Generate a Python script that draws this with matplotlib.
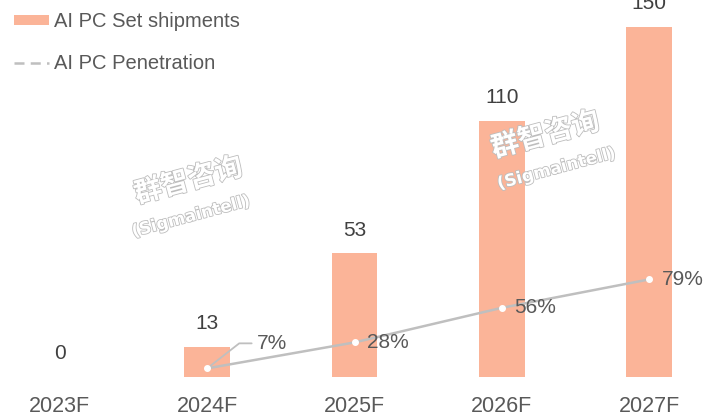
import matplotlib
matplotlib.use("Agg")
import matplotlib.pyplot as plt
import matplotlib.patheffects as pe
from matplotlib.lines import Line2D
from matplotlib.patches import Patch

years = ["2023F", "2024F", "2025F", "2026F", "2027F"]
shipments = [0, 13, 53, 110, 150]
pen_years = ["2024F", "2025F", "2026F", "2027F"]
penetration = [7, 28, 56, 79]

bar_color = "#FBB498"
line_color = "#BFBFBF"
text_dark = "#404040"
text_grey = "#595959"
font = "Liberation Sans"

fig = plt.figure(figsize=(7.11, 4.16), dpi=100)
ax = fig.add_axes([1 / 711, 39 / 416, 707 / 711, 373 / 416])
ax.set_xlim(-0.4, 4.4)
ax.set_ylim(0, 160)

x = list(range(len(years)))
ax.bar(x, shipments, width=0.31, color=bar_color, zorder=2)
for xi, v in zip(x, shipments):
    ax.annotate(str(v), (xi, v), xytext=(0, 10), textcoords="offset points",
                ha="center", va="bottom", fontsize=15, color=text_dark,
                family=font, annotation_clip=False)

ax.set_xticks(x)
ax.set_xticklabels(years, fontsize=15.5, color=text_grey, family=font)
ax.tick_params(axis="x", length=0, pad=14)
ax.set_yticks([])
for s in ax.spines.values():
    s.set_visible(False)

ax2 = ax.twinx()
ax2.set_ylim(0, 302)
ax2.set_yticks([])
for s in ax2.spines.values():
    s.set_visible(False)
px = [years.index(y) for y in pen_years]
ax2.plot(px, penetration, color=line_color, lw=1.8, zorder=3)
ax2.plot(px, penetration, "o", ms=4, mfc="white", mec="white", zorder=4)
for i, (xi, v) in enumerate(zip(px, penetration)):
    if i == 0:
        ax2.annotate(f"{v}%", (xi, v), xytext=(36, 18), textcoords="offset points",
                     ha="left", va="center", fontsize=15, color=text_grey, family=font,
                     arrowprops=dict(arrowstyle="-", color=line_color, lw=1.3,
                                     shrinkA=2, shrinkB=2,
                                     connectionstyle="angle,angleA=0,angleB=38,rad=0"))
    else:
        ax2.annotate(f"{v}%", (xi, v), xytext=(9, 0), textcoords="offset points",
                     ha="left", va="center", fontsize=15, color=text_grey, family=font)

handles = [Patch(facecolor=bar_color, edgecolor="none"),
           Line2D([0], [0], color=line_color, lw=1.8, ls=(0, (4, 2.5)))]
leg = fig.legend(handles, ["AI PC Set shipments", "AI PC Penetration"],
                 loc="upper left", bbox_to_anchor=(-4 / 711, 1 + 6 / 416),
                 frameon=False, labelspacing=1.15,
                 handlelength=1.75, handleheight=0.35, handletextpad=0.25,
                 prop={"family": font, "size": 14.5})
for t in leg.get_texts():
    t.set_color(text_grey)

# faint outlined watermark
wm_fx = [pe.withStroke(linewidth=1.2, foreground="#BDBDBD")]
for (cx, cy, sx, sy) in [(0.265, 0.565, 0.268, 0.48), (0.767, 0.675, 0.782, 0.595)]:
    fig.text(cx, cy, "群智咨询", fontsize=20, family="Noto Sans CJK SC",
             fontweight="bold", color="white", rotation=15, ha="center",
             va="center", path_effects=wm_fx, zorder=5)
    fig.text(sx, sy, "(Sigmaintell)", fontsize=12, family="DejaVu Sans",
             fontweight="bold", color="white", rotation=15, ha="center",
             va="center", path_effects=wm_fx, zorder=5)

fig.savefig("out.png", dpi=100)
